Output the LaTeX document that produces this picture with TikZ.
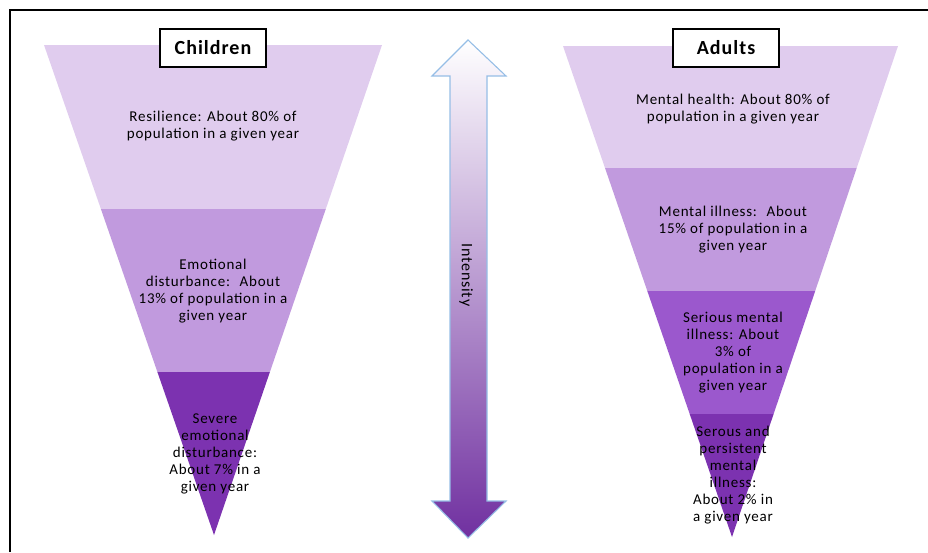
\documentclass[tikz,border=0pt]{standalone}
\usepackage{fontspec}
\setmainfont{Carlito}
\newfontfamily\bandfont[LetterSpace=5]{Carlito}
\usepackage{tikz}
\usetikzlibrary{shapes}

\definecolor{bandA}{RGB}{224,204,238}
\definecolor{bandB}{RGB}{193,154,222}
\definecolor{bandC}{RGB}{155,88,205}
\definecolor{bandD}{RGB}{124,50,176}
\definecolor{arrowline}{RGB}{150,190,230}
\definecolor{arrowlow}{RGB}{112,48,160}

\tikzset{
  bandtext/.style={align=center, font=\bandfont\fontsize{15}{17}\selectfont, inner sep=0pt},
  titlebox/.style={draw, fill=white, line width=1.1pt, minimum width=106pt, minimum height=38pt,
                   font=\bandfont\fontsize{20}{22}\selectfont\bfseries},
}

\begin{document}
\begin{tikzpicture}[x=1pt,y=1pt,yscale=-1,xscale=1]
  \useasboundingbox (0,0) rectangle (928,552);
  % frame
  \draw [line width=1.3pt] (10,552) -- (10,10) -- (928,10);

  % children funnel
  \fill [bandA] (44,45) -- (382,45) -- (325.8,209) -- (100.9,209) -- cycle;
  \fill [bandB] (100.9,209) -- (325.8,209) -- (269.9,372) -- (157.4,372) -- cycle;
  \fill [bandD] (157.4,372) -- (269.9,372) -- (214,535) -- cycle;

  % adults funnel
  \fill [bandA] (563,46) -- (898,46) -- (856.7,168) -- (605,168) -- cycle;
  \fill [bandB] (605,168) -- (856.7,168) -- (815.2,291) -- (647.3,291) -- cycle;
  \fill [bandC] (647.3,291) -- (815.2,291) -- (773.6,414) -- (689.7,414) -- cycle;
  \fill [bandD] (689.7,414) -- (773.6,414) -- (732,537) -- cycle;

  % intensity arrow
  \shade [top color=white, middle color={rgb,255:red,200;green,180;blue,222}, bottom color=arrowlow,
          draw=arrowline, line width=1.1pt, line join=miter]
    (468,40) -- (506,76) -- (487,76) -- (487,501) -- (506,501) -- (468,538)
    -- (432,501) -- (450,501) -- (450,76) -- (432,76) -- cycle;
  \node (intensity) at (466,275) [rotate=-90, font=\bandfont\fontsize{16}{18}\selectfont] {Intensity};

  % titles
  \node (children) at (213,48) [titlebox] {Children};
  \node (adults) at (726,48) [titlebox] {Adults};

  % band labels
  \node (resil) at (213,126) [bandtext] {Resilience: About 80\% of\\population in a given year};
  \node (emot) at (213,291) [bandtext] {Emotional\\disturbance:~ About\\13\% of population in a\\given year};
  \node (severe) at (215,454) [bandtext] {Severe\\emotional\\disturbance:\\About 7\% in a\\given year};
  \node (health) at (733,109) [bandtext] {Mental health: About 80\% of\\population in a given year};
  \node (illness) at (733,230) [bandtext] {Mental illness:~ About\\15\% of population in a\\given year};
  \node (serious) at (733,353) [bandtext] {Serious mental\\illness: About\\3\% of\\population in a\\given year};
  \node (persist) at (733,475) [bandtext] {Serous and\\persistent\\mental\\illness:\\About 2\% in\\a given year};
\end{tikzpicture}
\end{document}
